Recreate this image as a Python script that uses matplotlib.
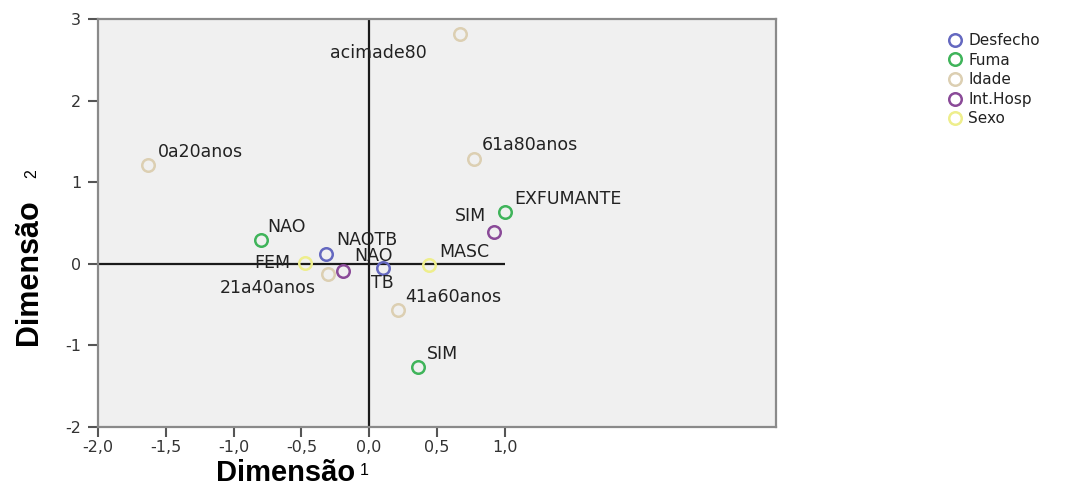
import matplotlib.pyplot as plt
from matplotlib.ticker import FixedLocator, FuncFormatter

plt.rcParams['font.family'] = ['Liberation Sans', 'DejaVu Sans']
plt.rcParams['axes.unicode_minus'] = False

# category coordinates (Dimensão 1, Dimensão 2)
groups = ['Desfecho', 'Fuma', 'Idade', 'Int.Hosp', 'Sexo']
colors = ['#6468c0', '#3fb45a', '#dccfb2', '#8a4a98', '#eeee8c']

desfecho_lbl = ['NAOTB', 'TB']
desfecho_x = [-0.32, 0.10]
desfecho_y = [0.12, -0.05]

fuma_lbl = ['NAO', 'SIM', 'EXFUMANTE']
fuma_x = [-0.80, 0.36, 1.00]
fuma_y = [0.29, -1.27, 0.63]

idade_lbl = ['0a20anos', '21a40anos', '41a60anos', '61a80anos', 'acimade80']
idade_x = [-1.63, -0.30, 0.21, 0.77, 0.67]
idade_y = [1.21, -0.12, -0.57, 1.29, 2.82]

hosp_lbl = ['NAO', 'SIM']
hosp_x = [-0.19, 0.92]
hosp_y = [-0.09, 0.39]

sexo_lbl = ['FEM', 'MASC']
sexo_x = [-0.47, 0.44]
sexo_y = [0.01, -0.01]

# label placement (pixel offset, horizontal alignment) per point
desfecho_off = [((10, 14), 'left'), ((-12, -15), 'left')]
fuma_off = [((7, 13), 'left'), ((9, 13), 'left'), ((9, 13), 'left')]
idade_off = [((10, 13), 'left'), ((-13, -14), 'right'), ((8, 13), 'left'),
             ((8, 14), 'left'), ((-82, -19), 'center')]
hosp_off = [((11, 15), 'left'), ((-8, 16), 'right')]
sexo_off = [((-15, 0), 'right'), ((10, 13), 'left')]

data = [
    (desfecho_lbl, desfecho_x, desfecho_y, desfecho_off),
    (fuma_lbl, fuma_x, fuma_y, fuma_off),
    (idade_lbl, idade_x, idade_y, idade_off),
    (hosp_lbl, hosp_x, hosp_y, hosp_off),
    (sexo_lbl, sexo_x, sexo_y, sexo_off),
]

fig = plt.figure(figsize=(10.8, 4.87), dpi=100)
ax = fig.add_axes([0.0907, 0.1232, 0.6278, 0.8378])
ax.set_facecolor('#f0f0f0')
ax.set_xlim(-2, 3)
ax.set_ylim(-2, 3)

# reference axes through the origin
ax.hlines(0, -2, 1, color='#1a1a1a', lw=1.6, zorder=1)
ax.axvline(0, color='#1a1a1a', lw=1.6, zorder=1)

for (lbls, xs, ys, offs), name, col in zip(data, groups, colors):
    ax.plot(xs, ys, ls='none', marker='o', ms=9, mfc='none', mec=col,
            mew=1.8, label=name, zorder=3)
    for lb, x, y, (off, ha) in zip(lbls, xs, ys, offs):
        ax.annotate(lb, (x, y), xytext=off, textcoords='offset pixels',
                    ha=ha, va='center', fontsize=12.5, color='#222222',
                    family=['DejaVu Sans'], zorder=4)

ax.xaxis.set_major_locator(FixedLocator([-2, -1.5, -1, -0.5, 0, 0.5, 1]))
ax.xaxis.set_major_formatter(FuncFormatter(lambda v, p: f'{v:.1f}'.replace('.', ',')))
ax.yaxis.set_major_locator(FixedLocator([-2, -1, 0, 1, 2, 3]))
ax.tick_params(length=7, width=1.5, color='#555555', labelsize=11.5,
               labelcolor='#333333', direction='out', pad=2)
ax.tick_params(axis='y', pad=5)
for t in ax.get_xticklabels() + ax.get_yticklabels():
    t.set_family('DejaVu Sans')
for s in ax.spines.values():
    s.set_color('#8a8a8a')
    s.set_linewidth(1.6)

# axis titles: bold word plus small regular number
fig.text(355 / 1080, 0.028, 'Dimensão', fontsize=21, fontweight='bold',
         ha='right', va='center')
fig.text(360 / 1080, 0.033, '1', fontsize=11.5, ha='left', va='center')
fig.text(29 / 1080, 1 - 272 / 487, 'Dimensão', fontsize=22, fontweight='bold',
         rotation=90, ha='center', va='center')
fig.text(32 / 1080, 1 - 174 / 487, '2', fontsize=11.5, rotation=90,
         ha='center', va='center')

leg = fig.legend(loc='upper left', bbox_to_anchor=(940 / 1080, 1 - 27 / 487),
                 frameon=False, fontsize=11, handletextpad=0.25,
                 labelspacing=0.3, handlelength=1.2, borderaxespad=0)
for t in leg.get_texts():
    t.set_family('DejaVu Sans')
    t.set_color('#222222')

fig.savefig('out.png', dpi=100)
